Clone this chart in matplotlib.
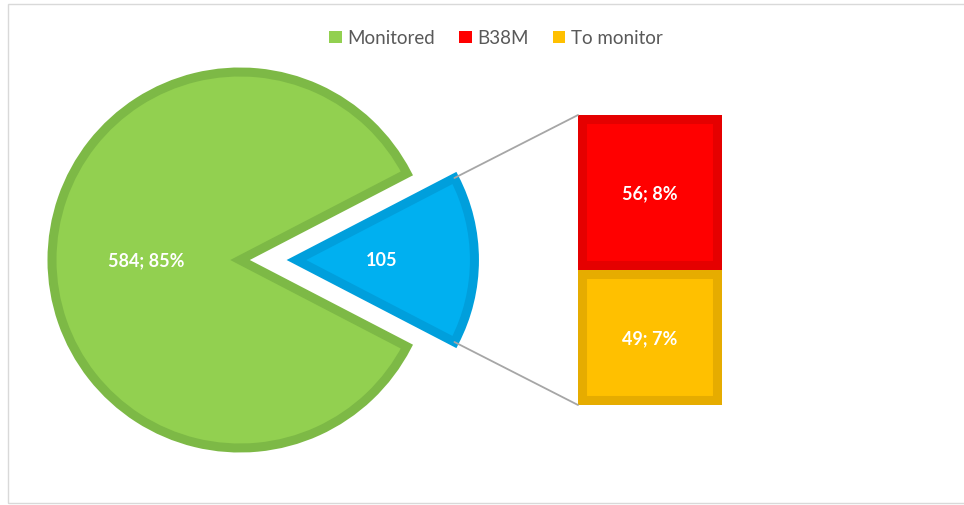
import matplotlib.pyplot as plt
from matplotlib.patches import Patch, Rectangle, ConnectionPatch
import numpy as np

# pie: main slice plus the "other" slice that is broken out into the bar
pie_labels = ["Monitored", "Other"]
pie_values = [584, 105]
pie_colors = ["#92D050", "#00B0F0"]
pie_edges = ["#7DB946", "#009FDC"]

# bar: breakdown of the "other" slice (top to bottom)
bar_labels = ["B38M", "To monitor"]
bar_values = [56, 49]
bar_colors = ["#FF0000", "#FFC000"]
bar_edges = ["#E50000", "#E6AC00"]

W, H = 964, 506
R = 188  # pixels per pie unit
CX, CY = 240, 245  # pie centre in pixels (from bottom left)


def main():
    plt.rcParams["font.family"] = ["Lato", "DejaVu Sans"]
    fig = plt.figure(figsize=(W / 100, H / 100), dpi=100)

    total = sum(pie_values)

    ax1 = fig.add_axes([(CX - 1.25 * R) / W, (CY - 1.2 * R) / H, 3.0 * R / W, 2.4 * R / H])
    start = pie_values[1] / total * 180
    wedges, _ = ax1.pie(
        pie_values,
        colors=pie_colors,
        startangle=start,
        explode=[0, 0.30],
    )
    ax1.set_xlim(-1.25, 1.75)
    ax1.set_ylim(-1.2, 1.2)
    ax1.axis("off")
    wedges[1].set_radius(0.947)
    for w, ec in zip(wedges, pie_edges):
        w.set_edgecolor(ec)
        w.set_linewidth(6.5)

    label_style = dict(color="white", fontsize=13, fontweight="bold",
                       ha="center", va="center")
    # labels of the pie slices
    w = wedges[0]
    mid = np.deg2rad((w.theta1 + w.theta2) / 2)
    pct = round(pie_values[0] / total * 100)
    ax1.text(w.center[0] + 0.5 * np.cos(mid), w.center[1] + 0.5 * np.sin(mid),
             f"{pie_values[0]}; {pct}%", **label_style)
    w = wedges[1]
    mid = np.deg2rad((w.theta1 + w.theta2) / 2)
    ax1.text(w.center[0] + 0.455 * np.cos(mid), w.center[1] + 0.455 * np.sin(mid),
             f"{pie_values[1]}", **label_style)

    # bar axes
    ax2 = fig.add_axes([578 / W, 100 / H, 144 / W, 290 / H])
    bottom = 0
    for label, value, color, ec in reversed(list(zip(bar_labels, bar_values, bar_colors, bar_edges))):
        bars = ax2.bar(0, value, width=1, bottom=bottom, color=color,
                       edgecolor=ec, linewidth=13)
        for b in bars:
            b.set_clip_path(b)
        pct = round(value / total * 100)
        ax2.bar_label(bars, labels=[f"{value}; {pct}%"], label_type="center",
                      **{k: v for k, v in label_style.items() if k not in ("ha", "va")})
        bottom += value
    ax2.set_xlim(-0.5, 0.5)
    ax2.set_ylim(0, sum(bar_values))
    ax2.axis("off")

    # connector lines from the broken-out slice to the bar
    w = wedges[1]
    for theta, y in ((w.theta2, sum(bar_values)), (w.theta1, 0)):
        t = np.deg2rad(theta)
        x0 = w.center[0] + w.r * np.cos(t)
        y0 = w.center[1] + w.r * np.sin(t)
        con = ConnectionPatch(xyA=(-0.5, y), coordsA=ax2.transData,
                              xyB=(x0, y0), coordsB=ax1.transData,
                              color="#A6A6A6", linewidth=1.3)
        fig.add_artist(con)

    handles = [Patch(facecolor=pie_colors[0], label=pie_labels[0])]
    for label, color in zip(bar_labels, bar_colors):
        handles.append(Patch(facecolor=color, label=label))
    fig.legend(handles=handles, loc="center", bbox_to_anchor=(496 / W, 1 - 39 / H),
               ncol=3, frameon=False, fontsize=13.5, labelcolor="#595959",
               handlelength=0.65, handleheight=0.65, handletextpad=0.3,
               columnspacing=1.3)

    fig.add_artist(Rectangle((8 / W, 2 / H), 1.0, 499 / H, transform=fig.transFigure,
                             fill=False, edgecolor="#D9D9D9", linewidth=1))

    fig.savefig("out.png", dpi=100)


if __name__ == "__main__":
    main()
